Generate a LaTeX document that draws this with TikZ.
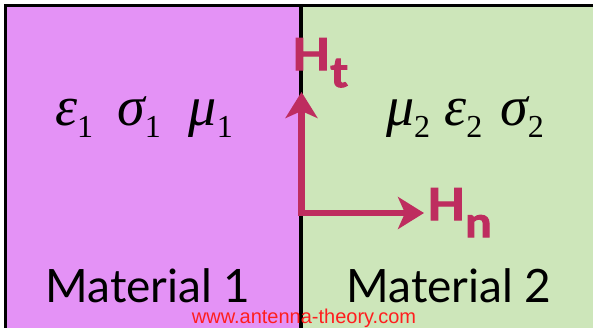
\documentclass[tikz,border=0pt]{standalone}
\usepackage{fontspec}
\usepackage{tikz}
\usetikzlibrary{arrows.meta,positioning}

\setmainfont{Liberation Serif}
\newfontfamily\matfont{Lato}
\newfontfamily\fieldfont{Lato}[BoldFeatures={FakeBold=2.5, FakeStretch=1.12}]
\newfontfamily\webfont{Liberation Sans}

\definecolor{matone}{RGB}{228,146,246}
\definecolor{mattwo}{RGB}{205,230,186}
\definecolor{fieldred}{RGB}{190,45,95}
\definecolor{webred}{RGB}{255,30,30}

% symbol with an upright subscript
\newcommand{\matpar}[2]{{\itshape #1}\raisebox{-12pt}{\fontsize{32}{32}\selectfont #2}}
% field label H with subscript
\newcommand{\hlab}[1]{H\raisebox{-17pt}{\fontsize{42}{42}\selectfont #1}}

\begin{document}
\begin{tikzpicture}[x=1pt, y=-1pt, >=Stealth,
    params/.style={font=\fontsize{56}{56}\selectfont},
    matlabel/.style={font=\matfont\fontsize{46}{46}\selectfont, anchor=base, inner sep=0pt},
    fieldlabel/.style={font=\fieldfont\bfseries\fontsize{44}{44}\selectfont, text=fieldred, anchor=base west, inner sep=0pt},
    field/.style={draw=fieldred, line width=6.5pt, line cap=rect,
      -{Stealth[length=26pt, width=32pt, inset=7pt]}}]
    \useasboundingbox (0,0) rectangle (593,327);

    % Materials
    \fill[matone] (5,5) rectangle (301,335);
    \fill[mattwo] (301,5) rectangle (593,335);
    \draw[line width=3pt] (5,335) -- (5,5) -- (593,5);
    \draw[line width=3.5pt] (301,5) -- (301,335);

    % Parameters
    \node[params] (par1) at (144,117) {\matpar{ε}{1}\hspace{24pt}\matpar{σ}{1}\hspace{28pt}\matpar{μ}{1}};
    \node[params] (par2) at (465,117) {\matpar{μ}{2}\hspace{14pt}\matpar{ε}{2}\hspace{18pt}\matpar{σ}{2}};

    % Fields
    \coordinate (O) at (301.5,213);
    \coordinate (tip t) at (301.5,92);
    \coordinate (tip n) at (424,213);
    \draw[field] (O) -- (tip t);
    \draw[field] (O) -- (tip n);
    \node[fieldlabel] (Ht) at (292,70) {\hlab{t}};
    \node[fieldlabel] (Hn) at (427,220) {\hlab{n}};

    % Labels
    \node[matlabel] (mat1) at (148,302) {Material 1};
    \node[matlabel] (mat2) at (449,302) {Material 2};
    \node[font=\webfont\fontsize{20}{20}\selectfont, text=webred, anchor=base, inner sep=0pt] (web) at (304,323.5) {www.antenna-theory.com};
  \end{tikzpicture}
\end{document}
